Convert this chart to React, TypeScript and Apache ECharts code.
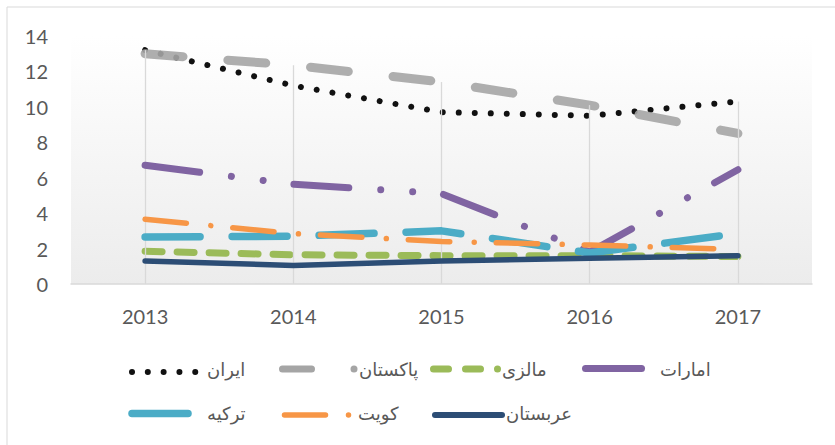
import React, { useEffect, useRef } from "react";
import * as echarts from "echarts";

const years = ["2013", "2014", "2015", "2016", "2017"];
const yTicks = { min: 0, max: 14, interval: 2 };

const iran = [13.2, 11.2, 9.7, 9.5, 10.3];
const pakistan = [13.0, 12.35, 11.4, 10.1, 8.5];
const malaysia = [1.85, 1.65, 1.6, 1.6, 1.55];
const uae = [6.7, 5.63, 5.1, 1.8, 6.45];
const turkey = [2.65, 2.7, 3.0, 1.75, 2.85];
const kuwait = [3.65, 2.85, 2.4, 2.2, 1.95];
const saudi = [1.3, 1.05, 1.3, 1.45, 1.6];

const names = ["ایران", "پاکستان", "مالزی", "امارات", "ترکیه", "کویت", "عربستان"];
const colors = ["#111111", "#a5a5a5", "#9bbb59", "#8064a2", "#4bacc6", "#f79646", "#2c4d75"];

const FONT = "DejaVu Sans";
const NUMFONT = "Lato";
const TXT = "#595959";

export default function App() {
  const ref = useRef<HTMLDivElement>(null);
  useEffect(() => {
    if (!ref.current) return;
    const chart = echarts.init(ref.current, undefined, { renderer: "svg" });
    const all = [iran, pakistan, malaysia, uae, turkey, kuwait, saudi];
    const maxes = years.map((_, i) => Math.max(...all.map((s) => s[i])));

    const styles = [
      { width: 6, type: [0.01, 16], cap: "round" },
      { width: 9, type: [38, 45], cap: "round", opacity: 0.9 },
      { width: 7, type: [17, 15], cap: "round" },
      { width: 7, type: [55, 32, 0.01, 32, 0.01, 31], cap: "round" },
      { width: 7.5, type: [55, 32], cap: "round" },
      { width: 5.5, type: [41.5, 24.5, 0.01, 22], cap: "round" },
      { width: 5.5, type: "solid", cap: "round" },
    ];

    const series: any[] = [
      {
        type: "line",
        name: "drop",
        data: [],
        silent: true,
        z: 1,
        markLine: {
          silent: true,
          symbol: "none",
          label: { show: false },
          lineStyle: { color: "#d9d9d9", width: 1.3, type: "solid" },
          data: years.map((y, i) => [
            { coord: [y, maxes[i]] },
            { coord: [y, 0] },
          ]),
        },
      },
      ...all.map((d, i) => ({
        type: "line",
        name: names[i],
        data: d,
        symbol: "none",
        showSymbol: false,
        z: 2 + i,
        lineStyle: {
          color: colors[i],
          width: styles[i].width,
          type: styles[i].type,
          cap: styles[i].cap,
          join: "round",
          opacity: (styles[i] as any).opacity ?? 1,
        },
      })),
    ];

    const legendItems = [
      { x1: 132, x2: 200, y: 372, tx: 207, ty: 369, w: 6, dash: [0.01, 15.8] },
      { x1: 282.5, x2: 356, y: 369, tx: 359, ty: 369, w: 7, dash: [29, 42.5, 0.01, 100] },
      { x1: 433.5, x2: 498, y: 369, tx: 502, ty: 369, w: 7, dash: [15, 17, 15, 17, 0.01, 100] },
      { x1: 585.5, x2: 641.5, y: 368.5, tx: 660, ty: 369, w: 7, dash: null },
      { x1: 132, x2: 188, y: 413.5, tx: 207, ty: 413, w: 7.5, dash: null },
      { x1: 284.5, x2: 349, y: 415, tx: 358, ty: 413, w: 5.5, dash: [41, 23, 0.01, 100] },
      { x1: 435, x2: 502, y: 415, tx: 506, ty: 413, w: 6, dash: null },
    ];

    const graphic: any[] = [
      { type: "line", shape: { x1: 7, y1: 7, x2: 7, y2: 460 }, style: { stroke: "#d9d9d9", lineWidth: 1 }, silent: true },
      { type: "line", shape: { x1: 7, y1: 7, x2: 850, y2: 7 }, style: { stroke: "#d9d9d9", lineWidth: 1 }, silent: true },
    ];
    legendItems.forEach((it, i) => {
      graphic.push({
        type: "line",
        shape: { x1: it.x1, y1: it.y, x2: it.x2, y2: it.y },
        style: {
          stroke: colors[i],
          lineWidth: it.w,
          lineCap: "round",
          lineDash: it.dash || undefined,
        },
        silent: true,
      });
      graphic.push({
        type: "text",
        x: it.tx,
        y: it.ty,
        style: {
          text: names[i],
          fill: TXT,
          font: `18px "${FONT}"`,
          textAlign: "left",
          textVerticalAlign: "middle",
        },
        silent: true,
      });
    });

    chart.setOption({
      animation: false,
      grid: {
        left: 71,
        right: 23,
        top: 36,
        bottom: 161,
        show: true,
        borderWidth: 0,
        backgroundColor: new echarts.graphic.LinearGradient(0, 0, 0, 1, [
          { offset: 0, color: "#ffffff" },
          { offset: 1, color: "#ececec" },
        ]),
      },
      xAxis: {
        type: "category",
        data: years,
        boundaryGap: true,
        axisLine: { show: true, lineStyle: { color: "#d9d9d9", width: 1.5 } },
        axisTick: { show: false },
        splitLine: { show: false },
        axisLabel: { color: TXT, fontFamily: NUMFONT, fontSize: 20, margin: 22 },
      },
      yAxis: {
        type: "value",
        min: yTicks.min,
        max: yTicks.max,
        interval: yTicks.interval,
        axisLine: { show: false },
        axisTick: { show: false },
        splitLine: { show: false },
        axisLabel: { color: TXT, fontFamily: NUMFONT, fontSize: 20, margin: 23 },
      },
      series,
      graphic,
    });
    return () => chart.dispose();
  }, []);
  return (
    <div
      ref={ref}
      style={{ position: "fixed", left: 0, top: 0, width: 835, height: 445, background: "#fff" }}
    />
  );
}
